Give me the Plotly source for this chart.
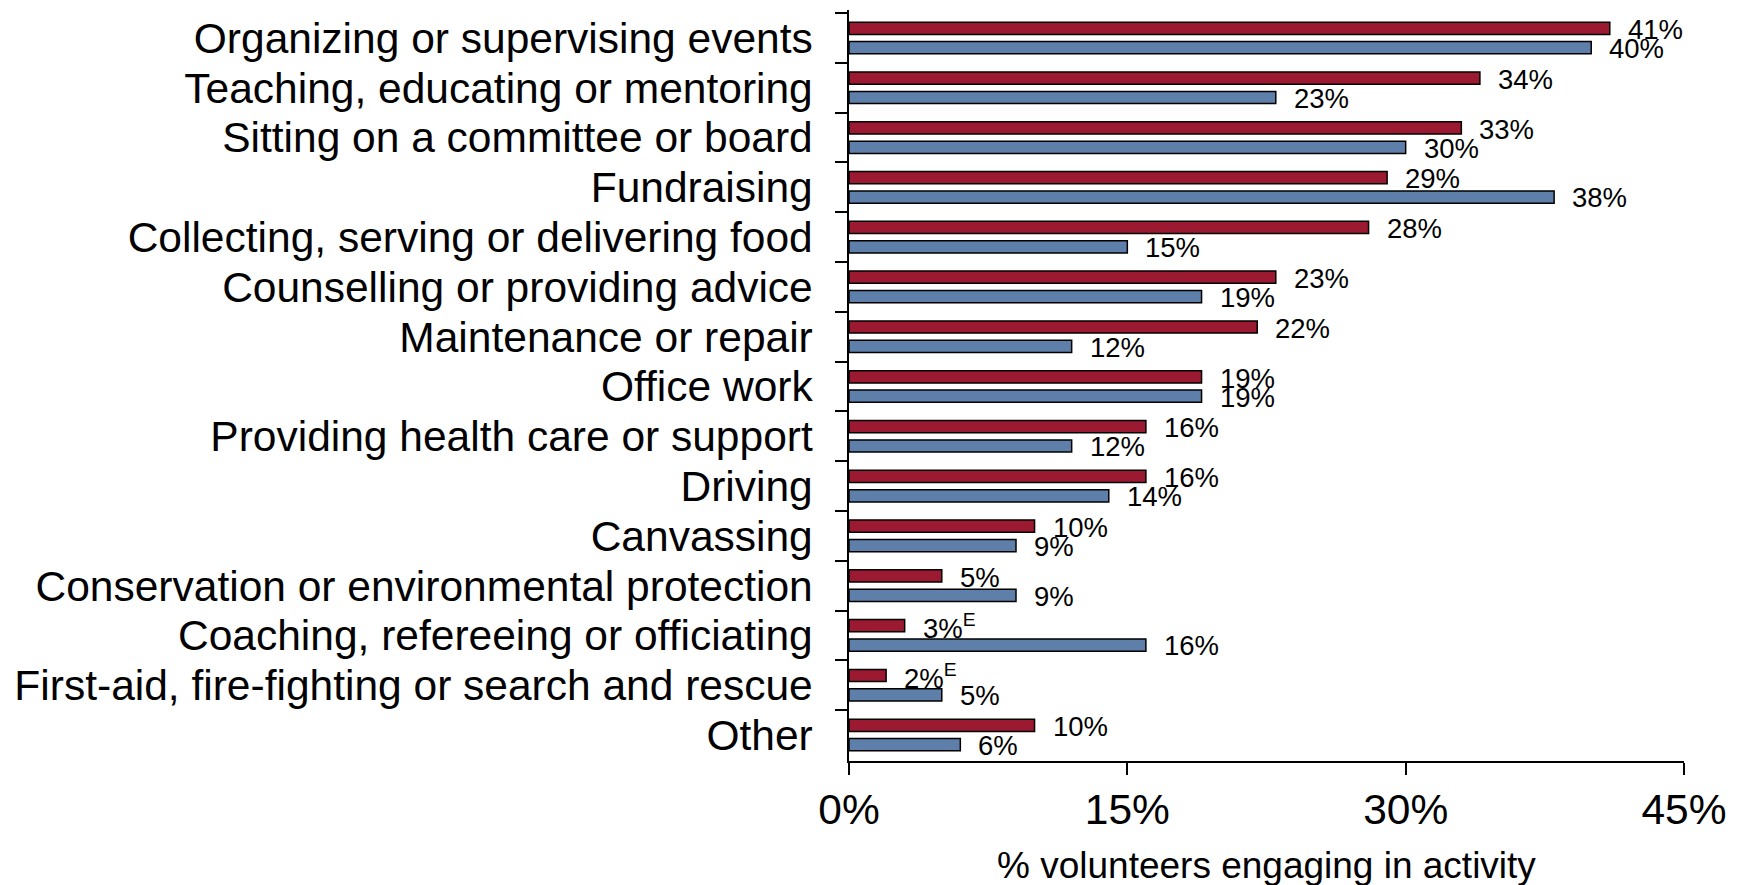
import plotly.graph_objects as go

# Volunteer activities, two comparison groups (percent of volunteers)
activities = [
    "Organizing or supervising events",
    "Teaching, educating or mentoring",
    "Sitting on a committee or board",
    "Fundraising",
    "Collecting, serving or delivering food",
    "Counselling or providing advice",
    "Maintenance or repair",
    "Office work",
    "Providing health care or support",
    "Driving",
    "Canvassing",
    "Conservation or environmental protection",
    "Coaching, refereeing or officiating",
    "First-aid, fire-fighting or search and rescue",
    "Other",
]
series_red = [41, 34, 33, 29, 28, 23, 22, 19, 16, 16, 10, 5, 3, 2, 10]
series_blue = [40, 23, 30, 38, 15, 19, 12, 19, 12, 14, 9, 9, 16, 5, 6]
# estimates flagged "E" (use with caution)
flag_red = ["", "", "", "", "", "", "", "", "", "", "", "", "E", "E", ""]
flag_blue = [""] * len(activities)

x_ticks = [0, 15, 30, 45]
x_ticktext = ["0%", "15%", "30%", "45%"]
x_title = "% volunteers engaging in activity"

RED = "#9C1A31"
BLUE = "#5E7FA9"
FONT = "Liberation Sans, Arial, sans-serif"

fig = go.Figure()
fig.add_trace(go.Bar(
    y=activities, x=series_red, orientation="h", name="red",
    marker=dict(color=RED, line=dict(color="black", width=1.5)),
    hoverinfo="x+y",
))
fig.add_trace(go.Bar(
    y=activities, x=series_blue, orientation="h", name="blue",
    marker=dict(color=BLUE, line=dict(color="black", width=1.5)),
    hoverinfo="x+y",
))

def label(v, flag):
    txt = f"{v}%"
    if flag:
        txt += f"<sup>{flag}</sup>"
    return txt

annotations = []
for cat, v, f in zip(activities, series_red, flag_red):
    annotations.append(dict(
        x=v, y=cat, xref="x", yref="y", text=label(v, f), showarrow=False,
        xanchor="left", yanchor="middle", xshift=16, yshift=8.5,
        font=dict(family=FONT, size=27.5, color="black"),
    ))
for cat, v, f in zip(activities, series_blue, flag_blue):
    annotations.append(dict(
        x=v, y=cat, xref="x", yref="y", text=label(v, f), showarrow=False,
        xanchor="left", yanchor="middle", xshift=16, yshift=-10.5,
        font=dict(family=FONT, size=27.5, color="black"),
    ))

MARGIN_T, MARGIN_B = 10, 124
plot_h = 885 - MARGIN_T - MARGIN_B

# x-axis title placed below the tick labels (row 866 px from the top)
annotations.append(dict(
    x=0.5, y=(885 - MARGIN_B - 866) / plot_h, xref="paper", yref="paper",
    text=x_title, showarrow=False, yanchor="middle",
    font=dict(family=FONT, size=37, color="black"),
))

fig.update_layout(
    width=1740, height=885,
    margin=dict(l=849, r=56, t=MARGIN_T, b=MARGIN_B, autoexpand=False),
    paper_bgcolor="white", plot_bgcolor="white",
    barmode="group", bargap=0.22, bargroupgap=0.37,
    showlegend=False,
    font=dict(family=FONT, color="black"),
    annotations=annotations,
)

fig.update_yaxes(
    type="category", categoryorder="array", categoryarray=activities,
    autorange="reversed", tickmode="linear", dtick=1, tick0=0,
    showline=True, linecolor="black", linewidth=1.5,
    ticks="outside", ticklen=12, tickwidth=1.5, tickcolor="black",
    tickson="boundaries", ticklabelstandoff=26,
    tickfont=dict(family=FONT, size=42.5, color="black"),
    showgrid=False, zeroline=False, automargin=False,
)
fig.update_xaxes(
    range=[0, 45], tickmode="array", tickvals=x_ticks, ticktext=x_ticktext,
    showline=True, linecolor="black", linewidth=1.5,
    ticks="outside", ticklen=12, tickwidth=1.5, tickcolor="black",
    ticklabelstandoff=-2,
    tickfont=dict(family=FONT, size=42.5, color="black"),
    showgrid=False, zeroline=False, automargin=False,
)

fig.write_html("out.html")
